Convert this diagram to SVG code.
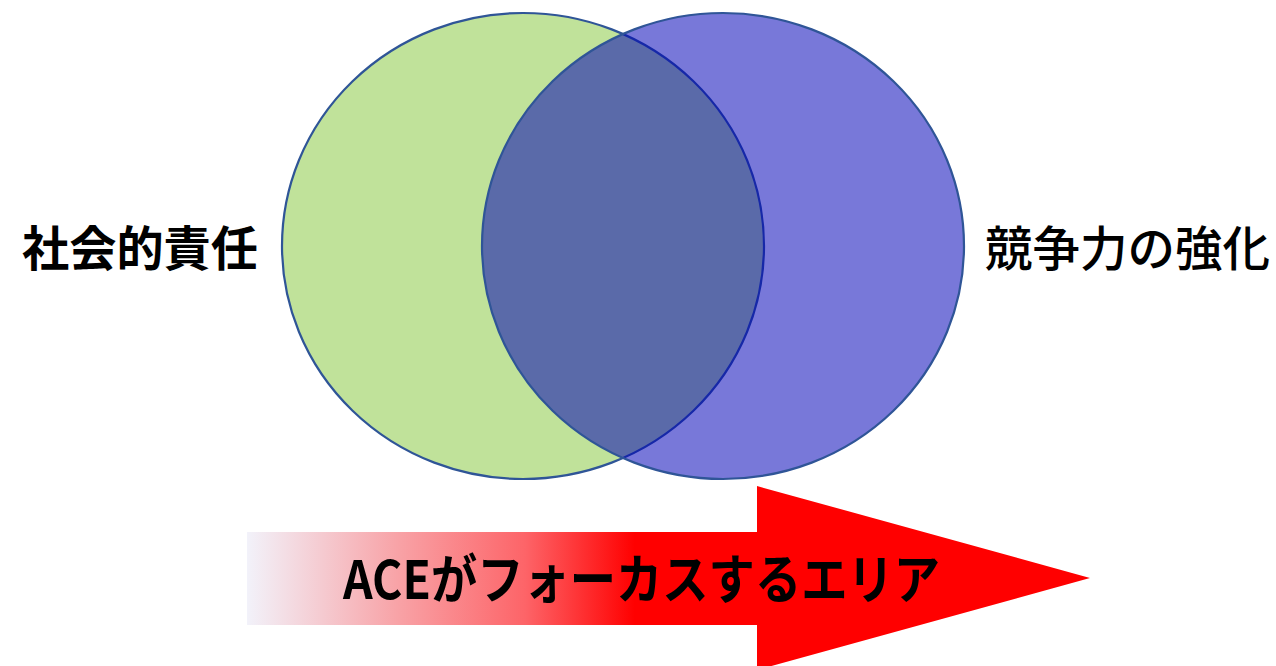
<svg xmlns="http://www.w3.org/2000/svg" width="1276" height="666" viewBox="0 0 1276 666">
<defs>
<linearGradient id="arrowGrad" x1="247" y1="0" x2="1090" y2="0" gradientUnits="userSpaceOnUse">
<stop offset="0" stop-color="#F2F2FA"/>
<stop offset="0.18" stop-color="#F8A2A6"/>
<stop offset="0.33" stop-color="#FD6468"/>
<stop offset="0.46" stop-color="#FF0000"/>
<stop offset="1" stop-color="#FF0000"/>
</linearGradient>
<style>
.circle{stroke:#2F5597;stroke-width:2.2}
.label{font-family:"Noto Sans CJK JP","Noto Sans",sans-serif;fill:#000}
</style>
</defs>
<rect width="1276" height="666" fill="#FFFFFF"/>
<g id="social">
<ellipse class="circle" cx="523" cy="246" rx="241" ry="233" fill="#C0E29A"/>
</g>
<g id="competitiveness">
<ellipse class="circle" cx="723" cy="246" rx="241" ry="233" fill="#0000B8" fill-opacity="0.53"/>
</g>
<g id="social-label">
<text class="label" x="22" y="266" font-size="48" font-weight="bold" textLength="236" lengthAdjust="spacingAndGlyphs">社会的責任</text>
</g>
<g id="competitiveness-label">
<text class="label" x="985" y="266" font-size="48" font-weight="500" textLength="285" lengthAdjust="spacingAndGlyphs">競争力の強化</text>
</g>
<g id="connectors">
<g id="focus-arrow">
<polygon points="247,532 757,532 757,486 1090,578 757,670 757,625 247,625" fill="url(#arrowGrad)"/>
<text class="label" x="343" y="599" font-size="53" font-weight="bold" textLength="597" lengthAdjust="spacingAndGlyphs">ACEがフォーカスするエリア</text>
</g>
</g>
</svg>
